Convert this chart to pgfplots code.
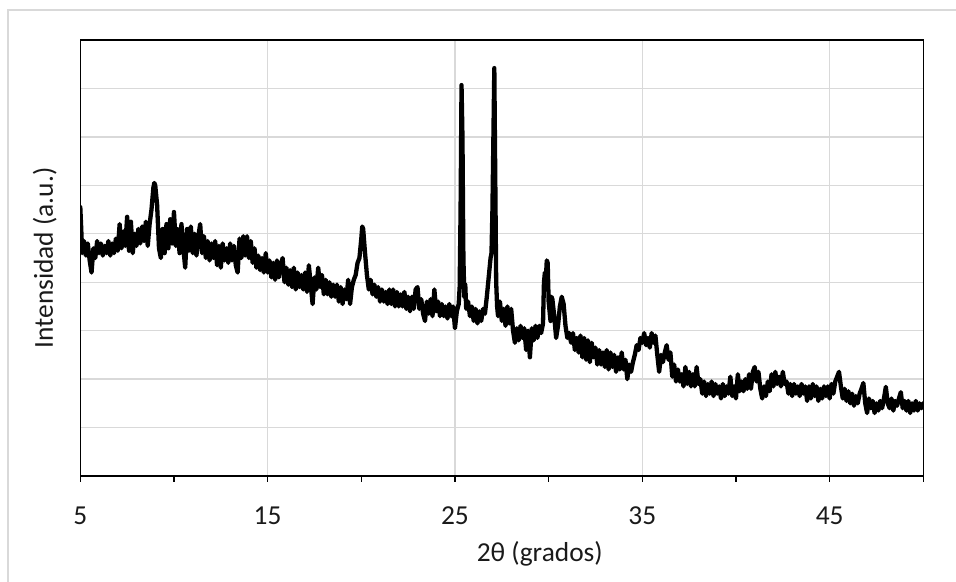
\documentclass[border=0pt]{standalone}
\usepackage{pgfplots}
\pgfplotsset{compat=1.18}
\usepackage{fontspec}
\setmainfont{Carlito}
\definecolor{gridgray}{HTML}{D9D9D9}
\definecolor{txt}{HTML}{1A1A1A}

\begin{document}
\fontsize{27.5}{33}\selectfont
\begin{tikzpicture}
\useasboundingbox (0,0) rectangle (956bp,582bp);
% chart area frame
\draw[gridgray, line width=1.3bp] (8bp,-20bp) |- (980bp,572bp);
\begin{axis}[
  at={(80.3bp,106bp)}, anchor=south west,
  scale only axis,
  width=843bp, height=436bp,
  xmin=5, xmax=50, ymin=0, ymax=9,
  axis line style={black, line width=1.4bp},
  xtick={5,15,25,35,45},
  minor xtick={10,20,30,40,50},
  ytick={1,2,...,8},
  yticklabels={},
  xmajorgrids, ymajorgrids,
  major grid style={gridgray, line width=1.3bp},
  tick align=outside,
  xtick pos=bottom,
  xtick style={black, line width=1.3bp},
  major tick length=6bp, minor tick length=6bp,
  ytick style={draw=none},
  /pgf/number format/assume math mode=true,
  xticklabel style={font=\fontsize{27.5}{33}\selectfont, text=txt, anchor=base, yshift=-42bp},
  xlabel={2θ (grados)},
  ylabel={Intensidad (a.u.)},
  xlabel style={at={(axis description cs:0.545,-0.1972)}, anchor=base, text=txt, font=\fontsize{27.5}{33}\selectfont},
  ylabel style={at={(axis description cs:-0.0324,0.5)}, anchor=base, text=txt, font=\fontsize{27.5}{33}\selectfont},
]
\addplot[black, line width=4.3bp, line join=round, line cap=round] coordinates {
(5.0,5.55)(5.05,5.1)(5.1,4.6)(5.2,4.85)(5.3,4.55)(5.4,4.8)(5.5,4.45)(5.6,4.2)(5.7,4.7)(5.8,4.5)(5.9,4.85)
(6.0,4.6)(6.1,4.8)(6.2,4.55)(6.3,4.75)(6.4,4.6)(6.5,4.85)(6.6,4.55)(6.7,4.8)(6.8,4.6)(6.9,4.9)
(7.0,4.65)(7.1,5.2)(7.2,4.7)(7.3,5.05)(7.4,4.75)(7.5,5.35)(7.6,4.65)(7.7,5.25)(7.8,4.6)(7.9,5.0)
(8.0,4.75)(8.1,5.1)(8.2,4.8)(8.3,5.15)(8.4,4.85)(8.5,5.25)(8.6,4.75)(8.7,5.2)(8.8,5.5)(8.9,5.95)(8.95,6.05)
(9.0,6.0)(9.1,5.6)(9.2,4.7)(9.3,4.5)(9.4,5.1)(9.5,4.6)(9.6,5.2)(9.7,4.7)(9.8,5.3)(9.9,4.8)
(10.0,5.45)(10.1,4.75)(10.2,5.1)(10.3,4.6)(10.4,5.2)(10.5,4.7)(10.6,4.3)(10.7,5.1)(10.8,4.65)(10.9,5.15)
(11.0,4.6)(11.1,5.0)(11.2,4.55)(11.3,4.95)(11.4,5.2)(11.5,4.6)(11.6,4.95)(11.7,4.5)(11.8,4.85)(11.9,4.45)
(12.0,4.8)(12.1,4.5)(12.2,4.85)(12.3,4.35)(12.4,4.75)(12.5,4.3)(12.6,4.8)(12.7,4.45)(12.8,4.7)(12.9,4.4)
(13.0,4.8)(13.1,4.45)(13.2,4.75)(13.3,4.35)(13.4,4.2)(13.5,4.9)(13.6,4.5)(13.7,4.95)(13.8,4.55)(13.9,4.95)
(14.0,4.5)(14.1,4.85)(14.2,4.4)(14.3,4.7)(14.4,4.3)(14.5,4.55)(14.6,4.25)(14.7,4.5)(14.8,4.2)(14.9,4.6)
(15.0,4.2)(15.1,4.45)(15.2,4.1)(15.3,4.4)(15.4,4.05)(15.5,4.45)(15.6,4.1)(15.7,4.35)(15.8,4.5)(15.9,4.0)
(16.0,4.3)(16.1,3.95)(16.2,4.25)(16.3,3.9)(16.4,4.3)(16.5,3.85)(16.6,4.2)(16.7,3.9)(16.8,4.15)(16.9,3.85)
(17.0,4.2)(17.1,3.8)(17.2,4.35)(17.3,3.95)(17.4,3.55)(17.5,4.1)(17.6,3.85)(17.7,4.3)(17.8,3.9)(17.9,4.15)
(18.0,3.75)(18.1,4.05)(18.2,3.75)(18.3,4.0)(18.4,3.7)(18.5,3.95)(18.6,3.7)(18.7,3.95)(18.8,3.6)(18.9,3.9)
(19.0,3.55)(19.1,3.85)(19.2,3.65)(19.3,4.05)(19.4,3.55)(19.5,3.9)(19.6,4.05)(19.7,4.15)(19.8,4.4)(19.9,4.5)
(20.0,4.9)(20.05,5.15)(20.1,5.1)(20.2,4.6)(20.3,4.15)(20.4,3.85)(20.5,4.05)(20.6,3.75)(20.7,3.95)(20.8,3.7)(20.9,3.9)
(21.0,3.6)(21.1,3.85)(21.2,3.6)(21.3,3.8)(21.4,3.55)(21.5,3.85)(21.6,3.55)(21.7,3.85)(21.8,3.5)(21.9,3.8)
(22.0,3.5)(22.1,3.75)(22.2,3.5)(22.3,3.8)(22.4,3.45)(22.5,3.7)(22.6,3.4)(22.7,3.7)(22.8,3.45)(22.9,3.85)
(23.0,3.9)(23.1,3.45)(23.2,3.65)(23.3,3.35)(23.4,3.2)(23.5,3.6)(23.6,3.35)(23.7,3.65)(23.8,3.3)(23.9,3.85)
(24.0,3.4)(24.1,3.6)(24.2,3.3)(24.3,3.55)(24.4,3.3)(24.5,3.5)(24.6,3.25)(24.7,3.55)(24.8,3.3)(24.9,3.5)
(25.0,3.05)(25.1,3.4)(25.2,3.55)(25.25,3.9)(25.3,5.5)(25.35,8.07)(25.4,7.0)(25.45,4.5)(25.5,3.7)(25.55,3.95)
(25.6,3.45)(25.7,3.6)(25.8,3.3)(25.9,3.5)(26.0,3.2)(26.1,3.45)(26.2,3.15)(26.3,3.4)(26.4,3.2)(26.5,3.45)
(26.6,3.35)(26.7,3.7)(26.8,4.1)(26.9,4.5)(26.95,4.6)(27.0,5.5)(27.1,8.42)(27.15,6.2)(27.2,4.0)(27.25,3.5)
(27.3,3.3)(27.4,3.6)(27.5,3.2)(27.6,3.45)(27.7,3.1)(27.8,3.5)(27.9,3.15)(28.0,3.45)(28.1,3.0)(28.2,2.75)
(28.3,3.05)(28.4,2.8)(28.5,3.1)(28.6,2.85)(28.7,3.05)(28.8,2.6)(28.9,3.0)(29.0,2.45)(29.1,3.05)(29.2,2.8)
(29.3,3.1)(29.4,2.85)(29.5,3.1)(29.6,2.95)(29.7,3.15)(29.75,4.0)(29.8,4.2)(29.85,4.05)(29.9,4.45)(29.95,4.4)
(30.0,3.6)(30.1,3.2)(30.15,3.7)(30.2,3.65)(30.3,3.3)(30.4,2.85)(30.5,3.1)(30.6,3.5)(30.7,3.7)(30.8,3.55)(30.9,3.1)
(31.0,2.85)(31.1,2.95)(31.2,2.75)(31.3,2.95)(31.4,2.6)(31.5,2.85)(31.6,2.55)(31.7,2.9)(31.8,2.45)(31.9,2.85)
(32.0,2.4)(32.1,2.8)(32.2,2.35)(32.3,2.75)(32.4,2.45)(32.5,2.65)(32.6,2.3)(32.7,2.6)(32.8,2.3)(32.9,2.55)
(33.0,2.25)(33.1,2.6)(33.2,2.2)(33.3,2.55)(33.4,2.25)(33.5,2.5)(33.6,2.15)(33.7,2.45)(33.8,2.2)(33.9,2.55)
(34.0,2.2)(34.1,2.4)(34.2,2.0)(34.3,2.3)(34.4,2.15)(34.5,2.35)(34.6,2.5)(34.7,2.7)(34.8,2.6)(34.9,2.85)
(35.0,2.75)(35.1,2.95)(35.2,2.7)(35.3,2.85)(35.4,2.65)(35.5,2.95)(35.6,2.75)(35.7,2.9)(35.8,2.5)(35.9,2.15)
(36.0,2.5)(36.1,2.35)(36.2,2.55)(36.3,2.7)(36.4,2.4)(36.5,2.55)(36.6,2.05)(36.7,2.3)(36.8,1.95)(36.9,2.2)
(37.0,1.95)(37.1,2.1)(37.2,1.85)(37.3,2.25)(37.4,1.9)(37.5,2.15)(37.6,1.85)(37.7,2.1)(37.8,1.85)(37.9,2.25)
(38.0,1.9)(38.1,2.0)(38.2,1.7)(38.3,1.95)(38.4,1.65)(38.5,1.9)(38.6,1.7)(38.7,1.95)(38.8,1.65)(38.9,1.9)
(39.0,1.7)(39.1,1.85)(39.2,1.6)(39.3,1.9)(39.4,1.65)(39.5,1.85)(39.6,1.7)(39.7,2.05)(39.8,1.65)(39.9,1.85)
(40.0,1.6)(40.1,2.1)(40.2,1.75)(40.3,1.95)(40.4,1.75)(40.5,2.0)(40.6,1.8)(40.7,2.1)(40.8,1.8)(40.9,2.15)
(41.0,2.25)(41.1,1.95)(41.2,2.15)(41.3,1.8)(41.4,1.6)(41.5,1.85)(41.6,1.65)(41.7,1.95)(41.8,1.75)(41.9,2.1)
(42.0,1.85)(42.1,2.15)(42.2,1.9)(42.3,2.05)(42.4,1.85)(42.5,2.15)(42.6,1.9)(42.7,1.95)(42.8,1.7)(42.9,1.9)
(43.0,1.65)(43.1,1.9)(43.2,1.7)(43.3,1.85)(43.4,1.65)(43.5,1.9)(43.6,1.7)(43.7,1.85)(43.8,1.55)(43.9,1.85)
(44.0,1.6)(44.1,1.9)(44.2,1.65)(44.3,1.85)(44.4,1.55)(44.5,1.8)(44.6,1.6)(44.7,1.85)(44.8,1.65)(44.9,1.85)
(45.0,1.6)(45.1,1.9)(45.2,1.7)(45.3,1.95)(45.4,2.05)(45.5,2.15)(45.6,1.85)(45.7,1.6)(45.8,1.8)(45.9,1.55)
(46.0,1.75)(46.1,1.5)(46.2,1.7)(46.3,1.45)(46.4,1.65)(46.5,1.5)(46.6,1.7)(46.7,1.8)(46.8,1.92)(46.9,1.5)
(47.0,1.3)(47.1,1.6)(47.2,1.4)(47.3,1.55)(47.4,1.3)(47.5,1.5)(47.6,1.35)(47.7,1.55)(47.8,1.4)(47.9,1.6)
(48.0,1.84)(48.1,1.5)(48.2,1.4)(48.3,1.6)(48.4,1.35)(48.5,1.55)(48.6,1.45)(48.7,1.6)(48.8,1.73)(48.9,1.4)
(49.0,1.55)(49.1,1.35)(49.2,1.55)(49.3,1.3)(49.4,1.5)(49.5,1.35)(49.6,1.55)(49.7,1.35)(49.8,1.5)(49.9,1.4)
(50.0,1.5)
};
\end{axis}
\end{tikzpicture}
\end{document}
